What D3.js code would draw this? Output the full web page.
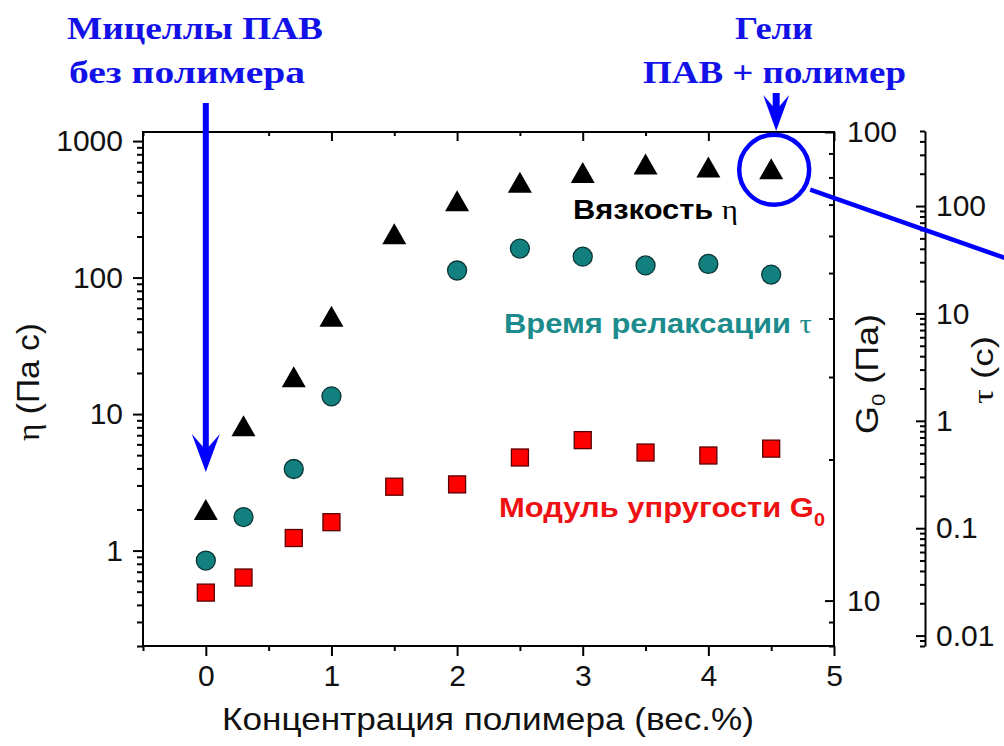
<!DOCTYPE html>
<html>
<head>
<meta charset="utf-8">
<script src="https://cdn.jsdelivr.net/npm/d3@7"></script>
<style>
  body { margin: 0; background: #fff; }
  text { font-family: "Liberation Sans", Arial, sans-serif; }
</style>
</head>
<body>
<script>
// concentration of polymer, wt.%
const conc = [0, 0.3, 0.7, 1, 1.5, 2, 2.5, 3, 3.5, 4, 4.5];
// viscosity eta, Pa s (left axis)
const viscosity = [2.0, 8.2, 18.8, 52, 209, 365, 500, 588, 680, 645, 627];
// relaxation time tau, s (outer right axis) - no point at 1.5
const concTau = [0, 0.3, 0.7, 1, 2, 2.5, 3, 3.5, 4, 4.5];
const relaxTime = [0.05, 0.127, 0.356, 1.69, 25.1, 40.2, 33.8, 28.0, 28.9, 23.0];
// elastic modulus G0, Pa (inner right axis)
const modulus = [10.4, 11.2, 13.6, 14.7, 17.5, 17.7, 20.2, 22.0, 20.7, 20.4, 21.1];

const xTicks = [0, 1, 2, 3, 4, 5];
const xTickLabels = ["0", "1", "2", "3", "4", "5"];
const etaTicks = [1, 10, 100, 1000];
const etaTickLabels = ["1", "10", "100", "1000"];
const gTicks = [10, 100];
const gTickLabels = ["10", "100"];
const tauTicks = [0.01, 0.1, 1, 10, 100];
const tauTickLabels = ["0.01", "0.1", "1", "10", "100"];

const w = 1004;
const h = 746;
const pLeft = 143, pRight = 834, pTop = 132, pBottom = 646;
const tauX = 925;

const svg = d3.select("body").append("svg").attr("width", w).attr("height", h);
svg.append("rect").attr("width", w).attr("height", h).attr("fill", "#fff");

const x = d3.scaleLinear().domain([-0.5, 5]).range([pLeft, pRight]);
const yEta = d3.scaleLog().domain([0.2, 1165]).range([pBottom, pTop]);
const yG = d3.scaleLog().domain([8, 100]).range([pBottom, pTop]);
const yTau = d3.scaleLog().domain([0.008, 500]).range([pBottom, 131]);

const lbl = (ticks, labels) => (d) => labels[ticks.indexOf(d)];

function styleAxis(g, keepDomain) {
  g.attr("font-family", "Liberation Sans, Arial, sans-serif").attr("font-size", 30);
  if (keepDomain !== true) g.select(".domain").remove();
  else g.select(".domain").attr("stroke", "#000").attr("stroke-width", 2);
  g.selectAll(".tick line").attr("stroke", "#000").attr("stroke-width", 2);
  g.selectAll(".tick text").attr("fill", "#111");
}

// bottom
svg.append("g").attr("transform", `translate(0,${pBottom})`)
  .call(d3.axisBottom(x).tickValues(xTicks).tickFormat(lbl(xTicks, xTickLabels))
    .tickSize(10).tickPadding(9).tickSizeOuter(0))
  .call(styleAxis);
svg.append("g").attr("transform", `translate(0,${pBottom})`)
  .call(d3.axisBottom(x).tickValues(d3.range(-0.5, 5, 1)).tickFormat("").tickSize(5).tickSizeOuter(0))
  .call(styleAxis);

// top (inward, no labels)
svg.append("g").attr("transform", `translate(0,${pTop})`)
  .call(d3.axisBottom(x).tickValues(xTicks).tickFormat("").tickSize(9).tickSizeOuter(0))
  .call(styleAxis);
svg.append("g").attr("transform", `translate(0,${pTop})`)
  .call(d3.axisBottom(x).tickValues(d3.range(-0.5, 5, 1)).tickFormat("").tickSize(4).tickSizeOuter(0))
  .call(styleAxis);

// left eta
svg.append("g").attr("transform", `translate(${pLeft},0)`)
  .call(d3.axisLeft(yEta).tickValues(etaTicks).tickFormat(lbl(etaTicks, etaTickLabels))
    .tickSize(10).tickPadding(10).tickSizeOuter(0))
  .call(styleAxis);
svg.append("g").attr("transform", `translate(${pLeft},0)`)
  .call(d3.axisLeft(yEta).tickValues(yEta.ticks().filter((d) => !etaTicks.includes(d)))
    .tickFormat("").tickSize(6).tickSizeOuter(0))
  .call(styleAxis);

// right G0 (ticks inward)
svg.append("g").attr("transform", `translate(${pRight},0)`)
  .call(d3.axisRight(yG).tickValues(gTicks).tickFormat(lbl(gTicks, gTickLabels))
    .tickSizeInner(-9).tickSizeOuter(0).tickPadding(13))
  .call(styleAxis);
svg.append("g").attr("transform", `translate(${pRight},0)`)
  .call(d3.axisRight(yG).tickValues(yG.ticks().filter((d) => !gTicks.includes(d)))
    .tickFormat("").tickSizeInner(-5).tickSizeOuter(0))
  .call(styleAxis);

// outer tau axis
svg.append("g").attr("transform", `translate(${tauX},0)`)
  .call(d3.axisRight(yTau).tickValues(tauTicks).tickFormat(lbl(tauTicks, tauTickLabels))
    .tickSizeInner(-9).tickSizeOuter(0).tickPadding(11))
  .call((g) => styleAxis(g, true));
svg.append("g").attr("transform", `translate(${tauX},0)`)
  .call(d3.axisRight(yTau).tickValues(yTau.ticks().filter((d) => !tauTicks.includes(d)))
    .tickFormat("").tickSizeInner(-5).tickSizeOuter(0))
  .call(styleAxis);

// frame
svg.append("rect")
  .attr("x", pLeft).attr("y", pTop)
  .attr("width", pRight - pLeft).attr("height", pBottom - pTop)
  .attr("fill", "none").attr("stroke", "#000").attr("stroke-width", 2);

// axis titles
svg.append("text").attr("x", 222).attr("y", 730)
  .attr("textLength", 532).attr("lengthAdjust", "spacingAndGlyphs")
  .attr("font-size", 32).attr("fill", "#111").text("Концентрация полимера (вес.%)");

function rotTitle(cx, cy, len) {
  return svg.append("text")
    .attr("transform", `translate(${cx},${cy}) rotate(-90)`)
    .attr("x", -len / 2)
    .attr("textLength", len).attr("lengthAdjust", "spacingAndGlyphs")
    .attr("font-size", 31).attr("fill", "#111");
}

const etaTitle = rotTitle(39, 382, 118);
etaTitle.append("tspan").attr("font-family", "Liberation Serif, serif").text("η");
etaTitle.append("tspan").text(" (Па с)");

const gTitle = rotTitle(878, 374, 120);
gTitle.append("tspan").text("G");
gTitle.append("tspan").attr("font-size", 19).attr("dy", 7).text("0");
gTitle.append("tspan").attr("dy", -7).text(" (Па)");

const tauTitle = rotTitle(993, 370, 68);
tauTitle.attr("font-size", 29);
tauTitle.append("tspan").attr("font-family", "Liberation Serif, serif").text("τ");
tauTitle.append("tspan").text(" (с)");

// markers
const tri = "M0,-10.5L12,10.5L-12,10.5Z";
svg.append("g").selectAll("path").data(conc).join("path")
  .attr("d", tri)
  .attr("transform", (d, i) => `translate(${x(d)},${yEta(viscosity[i])})`)
  .attr("fill", "#000");

svg.append("g").selectAll("circle").data(concTau).join("circle")
  .attr("cx", (d) => x(d))
  .attr("cy", (d, i) => yTau(relaxTime[i]))
  .attr("r", 9.5)
  .attr("fill", "#138080").attr("stroke", "#0b3535").attr("stroke-width", 1.3);

svg.append("g").selectAll("rect").data(conc).join("rect")
  .attr("x", (d) => x(d) - 8.5)
  .attr("y", (d, i) => yG(modulus[i]) - 8.5)
  .attr("width", 17).attr("height", 17)
  .attr("fill", "#ff0000").attr("stroke", "#5a0000").attr("stroke-width", 1.3);

// series labels
const sl = svg.append("g").attr("font-weight", "bold").attr("font-size", 28);
function seriesLabel(tx, ty, len, color) {
  return sl.append("text").attr("x", tx).attr("y", ty).attr("fill", color)
    .attr("textLength", len).attr("lengthAdjust", "spacingAndGlyphs");
}
const t1 = seriesLabel(573, 219, 165, "#000");
t1.append("tspan").text("Вязкость ");
t1.append("tspan").attr("font-family", "Liberation Serif, serif").attr("font-weight", "normal").text("η");
const t2 = seriesLabel(504, 333, 308, "#1b8b8b");
t2.append("tspan").text("Время релаксации ");
t2.append("tspan").attr("font-family", "Liberation Serif, serif").attr("font-weight", "normal").text("τ");
const t3 = seriesLabel(499, 517, 326, "#ee1111");
t3.append("tspan").text("Модуль упругости G");
t3.append("tspan").attr("font-size", 18).attr("dy", 9).text("0");

// blue annotations
const blue = "#0000ff";
const ann = svg.append("g").attr("font-weight", "bold").attr("font-size", 32).attr("fill", "#1212e8");
[["Мицеллы ПАВ", 67, 39, 256], ["без полимера", 69, 83, 236],
 ["Гели", 735, 39, 78], ["ПАВ + полимер", 643, 83, 263]].forEach(([s, tx, ty, len]) => {
  ann.append("text").attr("x", tx).attr("y", ty)
    .attr("textLength", len).attr("lengthAdjust", "spacingAndGlyphs")
    .style("font-family", "'Liberation Serif', serif").text(s);
});

// arrow to the surfactant-only point
const ax0 = x(0);
svg.append("line").attr("x1", ax0).attr("x2", ax0).attr("y1", 103).attr("y2", 455)
  .attr("stroke", blue).attr("stroke-width", 6);
svg.append("path")
  .attr("d", `M${ax0},472L${ax0 - 14},434L${ax0},450L${ax0 + 14},434Z`)
  .attr("fill", blue);

// arrow + circle on the gel point
const gx = x(4.5) + 3;
const gy = yEta(627) + 1;
svg.append("line").attr("x1", gx + 2).attr("x2", gx + 2).attr("y1", 93).attr("y2", 112)
  .attr("stroke", blue).attr("stroke-width", 7);
svg.append("path")
  .attr("d", `M${gx + 2},131L${gx - 11},95L${gx + 2},110L${gx + 15},95Z`)
  .attr("fill", blue);
svg.append("circle").attr("cx", gx).attr("cy", gy).attr("r", 35)
  .attr("fill", "none").attr("stroke", blue).attr("stroke-width", 4.5);
svg.append("line").attr("x1", gx + 36).attr("y1", gy + 20).attr("x2", gx + 250).attr("y2", gy + 95)
  .attr("stroke", blue).attr("stroke-width", 4.5);
</script>
</body>
</html>
